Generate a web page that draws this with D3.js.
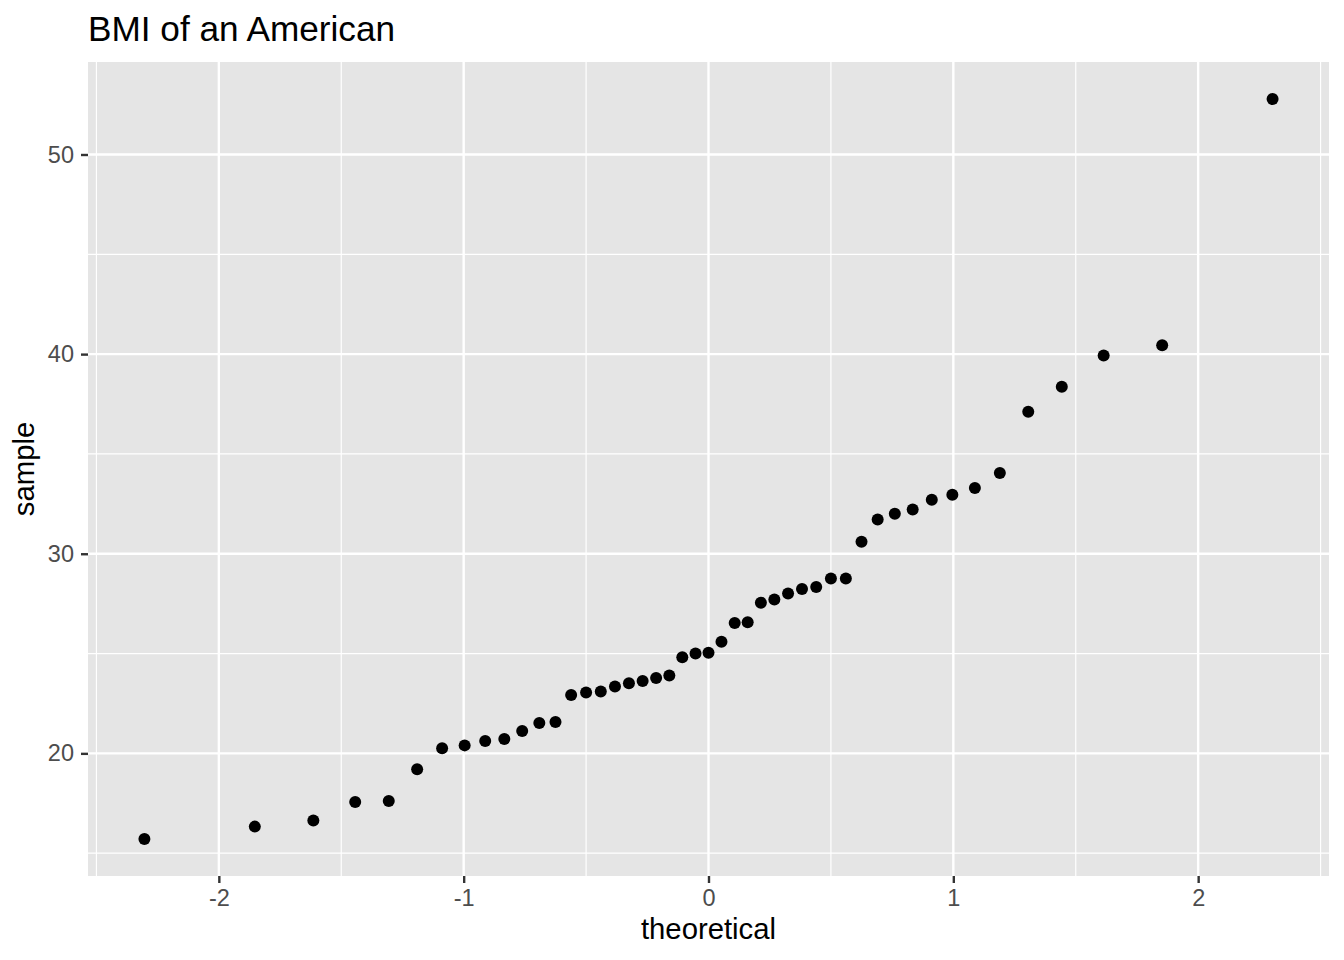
<!DOCTYPE html>
<html>
<head>
<meta charset="utf-8">
<script src="https://cdn.jsdelivr.net/npm/d3@7"></script>
<style>
  body { margin: 0; background: #fff; }
  svg { display: block; font-family: "Liberation Sans", Arial, Helvetica, sans-serif; }
</style>
</head>
<body>
<svg id="plot-svg"></svg>
<script>
// theoretical normal quantiles (x) and sample BMI values (y)
const theoretical = [
    -2.304, -1.853, -1.614, -1.443, -1.306, -1.190, -1.088, -0.996, -0.912, -0.834,
    -0.761, -0.691, -0.625, -0.561, -0.500, -0.440, -0.382, -0.325, -0.269, -0.214,
    -0.160, -0.107, -0.053, 0.000, 0.053, 0.107, 0.160, 0.214, 0.269, 0.325,
    0.382, 0.440, 0.500, 0.561, 0.625, 0.691, 0.761, 0.834, 0.912, 0.996,
    1.088, 1.190, 1.306, 1.443, 1.614, 1.853, 2.304
];
const sample = [
    15.71, 16.33, 16.64, 17.56, 17.61, 19.20, 20.26, 20.40, 20.62, 20.72,
    21.12, 21.52, 21.57, 22.92, 23.05, 23.10, 23.35, 23.51, 23.62, 23.77,
    23.90, 24.82, 25.00, 25.04, 25.59, 26.53, 26.57, 27.55, 27.71, 28.01,
    28.23, 28.33, 28.76, 28.76, 30.60, 31.72, 32.00, 32.22, 32.70, 32.95,
    33.29, 34.04, 37.11, 38.37, 39.93, 40.45, 52.78
];

const xMajor = [-2, -1, 0, 1, 2];
const xMinor = [-2.5, -1.5, -0.5, 0.5, 1.5, 2.5];
const yMajor = [20, 30, 40, 50];
const yMinor = [15, 25, 35, 45];

const titleText = "BMI of an American";
const xLabel = "theoretical";
const yLabel = "sample";

const W = 1344, H = 960;
const panel = {left: 88, right: 1329, top: 62, bottom: 876};

// ggplot-like 5% expansion of the data range
function expand(ext) {
    const pad = (ext[1] - ext[0]) * 0.05;
    return [ext[0] - pad, ext[1] + pad];
}

const points = theoretical.map((t, i) => ({x: t, y: sample[i]}));

const svg = d3.select("#plot-svg")
    .attr("width", W)
    .attr("height", H);

const xScale = d3.scaleLinear()
    .domain(expand(d3.extent(theoretical)))
    .range([panel.left, panel.right]);
const yScale = d3.scaleLinear()
    .domain(expand(d3.extent(sample)))
    .range([panel.bottom, panel.top]);

// panel background
svg.append("rect")
    .attr("x", panel.left)
    .attr("y", panel.top)
    .attr("width", panel.right - panel.left)
    .attr("height", panel.bottom - panel.top)
    .attr("fill", "#E5E5E5");

// grid lines
const grid = svg.append("g").attr("stroke", "#ffffff");
grid.selectAll(".vminor").data(xMinor).enter().append("line")
    .attr("x1", d => xScale(d)).attr("x2", d => xScale(d))
    .attr("y1", panel.top).attr("y2", panel.bottom)
    .attr("stroke-width", 1.2);
grid.selectAll(".hminor").data(yMinor).enter().append("line")
    .attr("y1", d => yScale(d)).attr("y2", d => yScale(d))
    .attr("x1", panel.left).attr("x2", panel.right)
    .attr("stroke-width", 1.2);
grid.selectAll(".vmajor").data(xMajor).enter().append("line")
    .attr("x1", d => xScale(d)).attr("x2", d => xScale(d))
    .attr("y1", panel.top).attr("y2", panel.bottom)
    .attr("stroke-width", 2.4);
grid.selectAll(".hmajor").data(yMajor).enter().append("line")
    .attr("y1", d => yScale(d)).attr("y2", d => yScale(d))
    .attr("x1", panel.left).attr("x2", panel.right)
    .attr("stroke-width", 2.4);

// axes
const xAxis = d3.axisBottom(xScale).tickValues(xMajor).tickSize(7).tickPadding(6.3)
    .tickFormat(d3.format("d"));
const yAxis = d3.axisLeft(yScale).tickValues(yMajor).tickSize(7).tickPadding(7)
    .tickFormat(d3.format("d"));

const gx = svg.append("g")
    .attr("transform", "translate(0," + panel.bottom + ")")
    .call(xAxis);
const gy = svg.append("g")
    .attr("transform", "translate(" + panel.left + ",0)")
    .call(yAxis);

[gx, gy].forEach(g => {
    g.select(".domain").remove();
    g.selectAll(".tick line").attr("stroke", "#333333").attr("stroke-width", 2.4);
    g.selectAll(".tick text")
        .attr("fill", "#4D4D4D")
        .style("font-size", "23.5px")
        .style("font-family", "'Liberation Sans', Arial, Helvetica, sans-serif");
});
// use a real minus sign like R draws a hyphen
gx.selectAll(".tick text").text(d => d < 0 ? "-" + Math.abs(d) : d);

// points
svg.append("g")
    .selectAll("circle")
    .data(points)
    .enter()
    .append("circle")
    .attr("cx", d => xScale(d.x))
    .attr("cy", d => yScale(d.y))
    .attr("r", 6)
    .attr("fill", "#000000");

// title and axis labels
svg.append("text")
    .attr("x", panel.left)
    .attr("y", 41)
    .style("font-size", "35.2px")
    .attr("fill", "#000")
    .text(titleText);

svg.append("text")
    .attr("x", (panel.left + panel.right) / 2)
    .attr("y", 939)
    .attr("text-anchor", "middle")
    .style("font-size", "29.3px")
    .attr("fill", "#000")
    .text(xLabel);

svg.append("text")
    .attr("transform", "translate(34," + ((panel.top + panel.bottom) / 2) + ") rotate(-90)")
    .attr("text-anchor", "middle")
    .style("font-size", "29.3px")
    .attr("fill", "#000")
    .text(yLabel);
</script>
</body>
</html>
